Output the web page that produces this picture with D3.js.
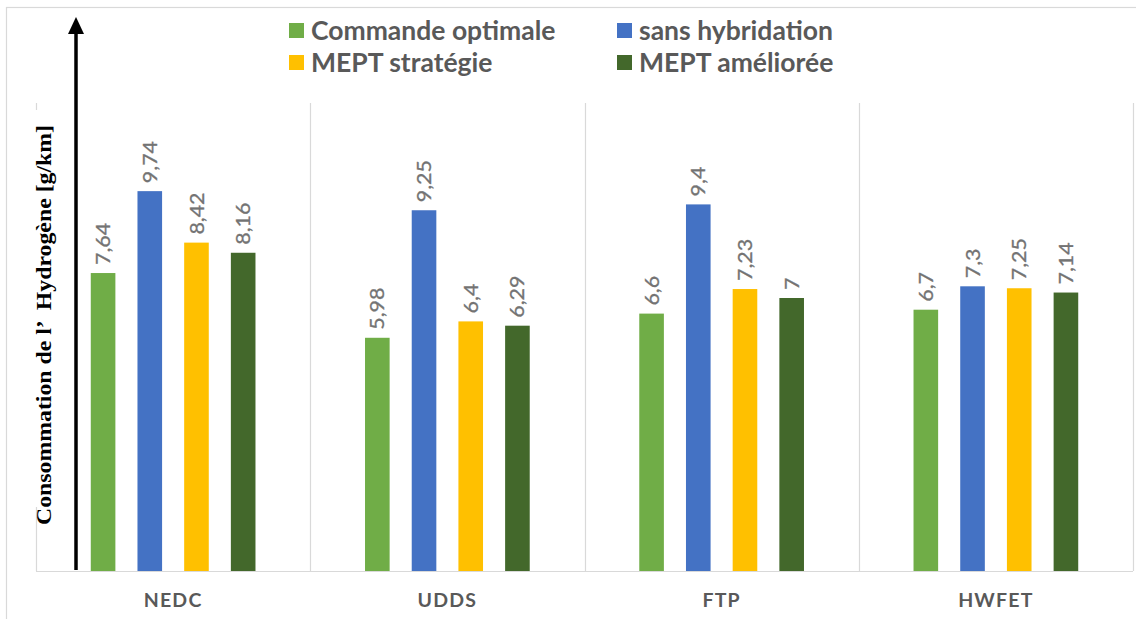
<!DOCTYPE html>
<html>
<head>
<meta charset="utf-8">
<script src="https://cdn.jsdelivr.net/npm/d3@7"></script>
<style>
  html, body { margin: 0; padding: 0; background: #ffffff; }
  svg { display: block; }
</style>
</head>
<body>
<svg id="chart" width="1136" height="619"></svg>
<script>
// Hydrogen consumption per driving cycle and control strategy
const cycles = ["NEDC", "UDDS", "FTP", "HWFET"];
const seriesNames = ["Commande optimale", "sans hybridation", "MEPT stratégie", "MEPT améliorée"];
const seriesColors = ["#70AD47", "#4472C4", "#FFC000", "#43682B"];
const commandeOptimale = [7.64, 5.98, 6.6, 6.7];
const sansHybridation = [9.74, 9.25, 9.4, 7.3];
const meptStrategie = [8.42, 6.4, 7.23, 7.25];
const meptAmelioree = [8.16, 6.29, 7, 7.14];
const seriesValues = [commandeOptimale, sansHybridation, meptStrategie, meptAmelioree];
const yAxisTitle = "Consommation de l\u2019  Hydrogène [g/km]";

const svg = d3.select("#chart");
const W = 1136, H = 619;
const plot = { left: 36, right: 1133, top: 103, bottom: 571 };

svg.append("rect").attr("width", W).attr("height", H).attr("fill", "#fff");

// outer frame
svg.append("rect")
  .attr("x", 6.5).attr("y", 7.5).attr("width", 1200).attr("height", 700)
  .attr("fill", "none").attr("stroke", "#d9d9d9").attr("stroke-width", 1.2);

const x0 = d3.scaleBand().domain(cycles).range([plot.left, plot.right]).padding(0);
const x1 = d3.scaleBand().domain(seriesNames).range([0, x0.bandwidth()])
  .paddingInner(0.473).paddingOuter(1.173);
const y = d3.scaleLinear().domain([0, 12]).range([plot.bottom, plot.top]);

const grid = "#d9d9d9";
// category separators
const seps = cycles.slice(1).map(c => x0(c)).concat([plot.right]);
svg.append("g").selectAll("line").data(seps).join("line")
  .attr("x1", d => Math.round(d) + 0.5).attr("x2", d => Math.round(d) + 0.5)
  .attr("y1", plot.top).attr("y2", plot.bottom)
  .attr("stroke", grid).attr("stroke-width", 1.2);
// left edge of the plot area
svg.append("line")
  .attr("x1", plot.left + 0.5).attr("x2", plot.left + 0.5)
  .attr("y1", plot.top).attr("y2", plot.bottom)
  .attr("stroke", grid).attr("stroke-width", 1.2);
// baseline
svg.append("line")
  .attr("x1", plot.left).attr("x2", plot.right)
  .attr("y1", plot.bottom + 0.5).attr("y2", plot.bottom + 0.5)
  .attr("stroke", grid).attr("stroke-width", 1.2);

// bars
const rows = [];
cycles.forEach((c, ci) => {
  seriesNames.forEach((s, si) => rows.push({ cycle: c, series: s, si, value: seriesValues[si][ci] }));
});

const groups = svg.append("g");
groups.selectAll("rect.bar").data(rows).join("rect")
  .attr("class", "bar")
  .attr("x", d => x0(d.cycle) + x1(d.series))
  .attr("y", d => y(d.value))
  .attr("width", x1.bandwidth())
  .attr("height", d => y(0) - y(d.value))
  .attr("fill", d => seriesColors[d.si]);

// value labels, rotated
groups.selectAll("text.val").data(rows).join("text")
  .attr("class", "val")
  .attr("transform", d => `translate(${x0(d.cycle) + x1(d.series) + x1.bandwidth() / 2},${y(d.value) - 8}) rotate(-90) scale(1.1,1)`)
  .attr("dy", "0.36em")
  .attr("text-anchor", "start")
  .attr("font-family", "Lato, 'Open Sans', sans-serif")
  .attr("font-size", 19.5)
  .attr("fill", "#737373")
  .attr("stroke", "#737373")
  .attr("stroke-width", 0.3)
  .text(d => String(d.value).replace(".", ","));

// category labels
svg.append("g").selectAll("text").data(cycles).join("text")
  .attr("x", d => x0(d) + x0.bandwidth() / 2)
  .attr("y", 607)
  .attr("text-anchor", "middle")
  .attr("font-family", "Lato, 'Open Sans', sans-serif")
  .attr("font-weight", "bold")
  .attr("font-size", 19.5)
  .attr("letter-spacing", 1.2)
  .attr("fill", "#595959")
  .text(d => d);

// legend
const legendPos = [[289, 23], [617, 23], [289, 55], [617, 55]];
const legend = svg.append("g").selectAll("g").data(seriesNames).join("g")
  .attr("transform", (d, i) => `translate(${legendPos[i][0]},${legendPos[i][1]})`);
legend.append("rect").attr("width", 15).attr("height", 15)
  .attr("fill", (d, i) => seriesColors[i]);
legend.append("text")
  .attr("x", 22).attr("y", 16.5)
  .attr("font-family", "Lato, 'Open Sans', sans-serif")
  .attr("font-weight", "bold")
  .attr("font-size", 26.5)
  .attr("fill", "#595959")
  .text(d => d);

// y axis title box and text
svg.append("rect").attr("x", 28).attr("y", 110).attr("width", 32).attr("height", 397).attr("fill", "#fff");
svg.append("text")
  .attr("transform", "translate(51,325) rotate(-90)")
  .attr("text-anchor", "middle")
  .attr("font-family", "'Liberation Serif', 'Times New Roman', serif")
  .attr("font-weight", "bold")
  .attr("font-size", 21)
  .attr("textLength", 400)
  .attr("lengthAdjust", "spacingAndGlyphs")
  .style("white-space", "pre")
  .attr("fill", "#000")
  .text(yAxisTitle);

// y axis arrow
svg.append("line")
  .attr("x1", 76).attr("x2", 76).attr("y1", 570).attr("y2", 30)
  .attr("stroke", "#000").attr("stroke-width", 3.5);
svg.append("path")
  .attr("d", "M76,17 L68,34 L84,34 Z")
  .attr("fill", "#000");
</script>
</body>
</html>
